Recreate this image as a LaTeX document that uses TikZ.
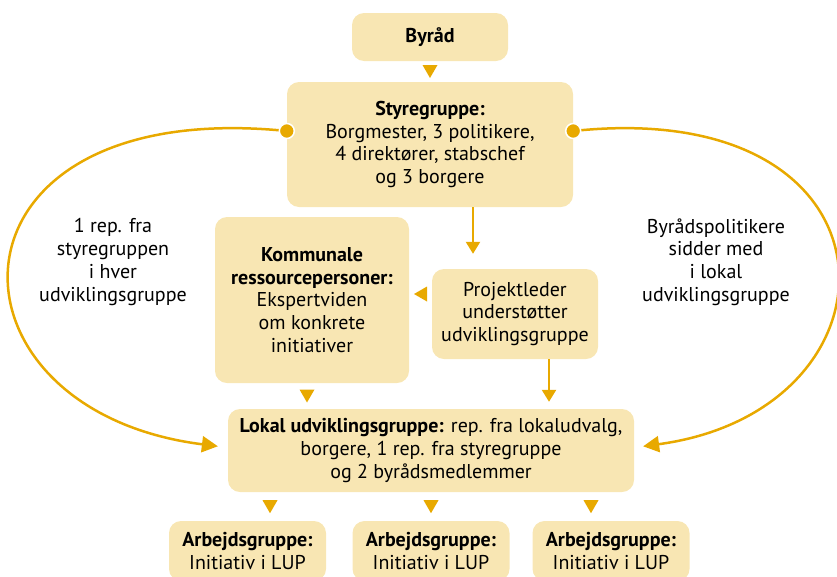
\documentclass[tikz,border=0pt]{standalone}
\usepackage{fontspec}
\setmainfont{PT Sans}
\usetikzlibrary{arrows.meta,calc}
\definecolor{gold}{HTML}{E8A900}
\definecolor{sand}{HTML}{F8E6B3}
\tikzset{
  tridown/.pic={\fill[gold] (-7.5,-6.5) -- (7.5,-6.5) -- (0,6.5) -- cycle;},
  trileft/.pic={\fill[gold] (6.5,-7.5) -- (6.5,7.5) -- (-6.5,0) -- cycle;}
}
\begin{document}
\begin{tikzpicture}[x=1pt,y=-1pt,
  box/.style={fill=sand,rounded corners=12pt,align=center,inner sep=0pt,
    font=\fontsize{20}{22.7}\selectfont},
  note/.style={align=center,font=\fontsize{20}{22.7}\selectfont},
  arr/.style={gold,line width=2.3pt,-{Triangle[length=12pt,width=14pt]}},
  link/.style={gold,line width=2.5pt,-{Triangle[length=16pt,width=16pt]}},
  dot/.style={fill=gold,draw=white,line width=1.5pt}]
\useasboundingbox (0,0) rectangle (837,576);
\node[box,minimum width=156pt,minimum height=48pt] (byrad) at (430,37) {\textbf{Byråd}};
\node[box,minimum width=286pt,minimum height=125pt] (styre) at (430,144.5)
  {\textbf{Styregruppe:}\\Borgmester, 3 politikere,\\4 direktører, stabschef\\og 3 borgere};
\node[box,minimum width=194pt,minimum height=166pt] (komm) at (312,300)
  {\textbf{Kommunale}\\\textbf{ressourcepersoner:}\\Ekspertviden\\om konkrete\\initiativer};
\node[box,minimum width=166pt,minimum height=90pt] (pl) at (515,314)
  {Projektleder\\understøtter\\udviklingsgruppe};
\node[box,minimum width=406pt,minimum height=83pt] (lokal) at (431,450.5)
  {\textbf{Lokal udviklingsgruppe:} rep. fra lokaludvalg,\\borgere, 1 rep. fra styregruppe\\og 2 byrådsmedlemmer};
\node[box,minimum width=157pt,minimum height=60pt] (ag1) at (247.5,551) {\textbf{Arbejdsgruppe:}\\Initiativ i LUP};
\node[box,minimum width=157pt,minimum height=60pt] (ag2) at (431,551) {\textbf{Arbejdsgruppe:}\\Initiativ i LUP};
\node[box,minimum width=157pt,minimum height=60pt] (ag3) at (611,551) {\textbf{Arbejdsgruppe:}\\Initiativ i LUP};
\node[note] (lbll) at (113,262) {1 rep. fra\\styregruppen\\i hver\\udviklingsgruppe};
\node[note] (lblr) at (716,262) {Byrådspolitikere\\sidder med\\i lokal\\udviklingsgruppe};
\coordinate (s1) at ([xshift=43pt]styre.south);
\draw[arr,shorten >=15pt] (s1) -- (s1 |- pl.north);
\coordinate (s2) at ([xshift=34pt]pl.south);
\draw[arr,shorten >=7pt] (s2) -- (s2 |- lokal.north);
\pic at ($(byrad.south)!0.5!(styre.north)$) {tridown};
\coordinate (k1) at ([xshift=-5pt]komm.south);
\pic at ($(k1)!0.5!(k1 |- lokal.north)$) {tridown};
\coordinate (p1) at ([yshift=20pt]pl.west);
\pic at ($(p1)!0.5!(p1 -| komm.east)$) {trileft};
\foreach \dx in {-161,0,160}
  \pic at ($(lokal.south)+(\dx,14.5)$) {tridown};
\coordinate (dotl) at ([yshift=13.5pt]styre.west);
\coordinate (dotr) at ([yshift=13.5pt]styre.east);
\coordinate (inl) at ([yshift=3pt]lokal.west);
\coordinate (inr) at ([yshift=3pt]lokal.east);
\draw[link,shorten >=10pt] (dotl) .. controls (-70,95) and (-70,410) .. (inl);
\draw[link,shorten >=9pt] (dotr) .. controls (912,95) and (912,410) .. (inr);
\filldraw[dot] (dotl) circle (7.5pt);
\filldraw[dot] (dotr) circle (7.5pt);
\end{tikzpicture}
\end{document}
